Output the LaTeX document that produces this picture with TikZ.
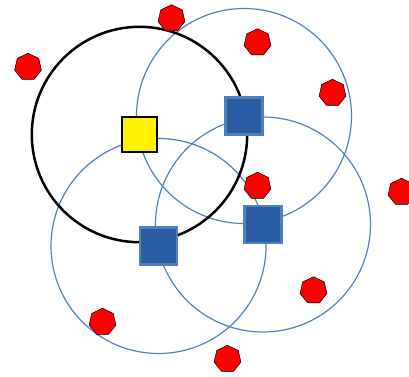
\documentclass[tikz,border=0pt]{standalone}
\usepackage{tikz}
\usepackage{xcolor}
\usetikzlibrary{shapes.geometric, positioning}

\definecolor{rangeblue}{RGB}{79,129,189}
\definecolor{relayfill}{RGB}{42,94,164}

\begin{document}
\begin{tikzpicture}[x=1pt, y=-1pt,
    sink/.style={draw=black, line width=2pt, fill=yellow, minimum size=35pt, inner sep=0pt},
    relay/.style={draw=rangeblue, line width=2.2pt, fill=relayfill, minimum size=37pt, inner sep=0pt},
    tgt/.style={draw=black, line width=0.5pt, fill=red, regular polygon, regular polygon sides=7, minimum size=27.5pt, inner sep=0pt},
    coverage/.style={draw=rangeblue, line width=1.2pt}]
    \useasboundingbox (0,0) rectangle (409,376);

    \coordinate (cs) at (139.5,134.5);
    \coordinate (ca) at (244,116);
    \coordinate (cb) at (158.5,246);
    \coordinate (cc) at (263,224.5);

    % coverage circles
    \draw[coverage] (ca) circle[radius=107.5];
    \draw[coverage] (cb) circle[radius=107.5];
    \draw[coverage] (cc) circle[radius=107.5];
    \draw[line width=2.5pt] (cs) circle[radius=107.7];

    \node[sink] (master) at (cs) {};
    \node[relay] (relayA) at (ca) {};
    \node[relay] (relayB) at (cb) {};
    \node[relay] (relayC) at (cc) {};

    \node[tgt] (t1) at (28,67) {};
    \node[tgt] (t2) at (171.5,18.5) {};
    \node[tgt] (t3) at (257.5,42.5) {};
    \node[tgt] (t4) at (332.5,93) {};
    \node[tgt] (t5) at (257.5,186) {};
    \node[tgt] (t6) at (401.5,192) {};
    \node[tgt] (t7) at (313.5,290.5) {};
    \node[tgt] (t8) at (102.5,322) {};
    \node[tgt] (t9) at (227.5,359) {};
\end{tikzpicture}
\end{document}
